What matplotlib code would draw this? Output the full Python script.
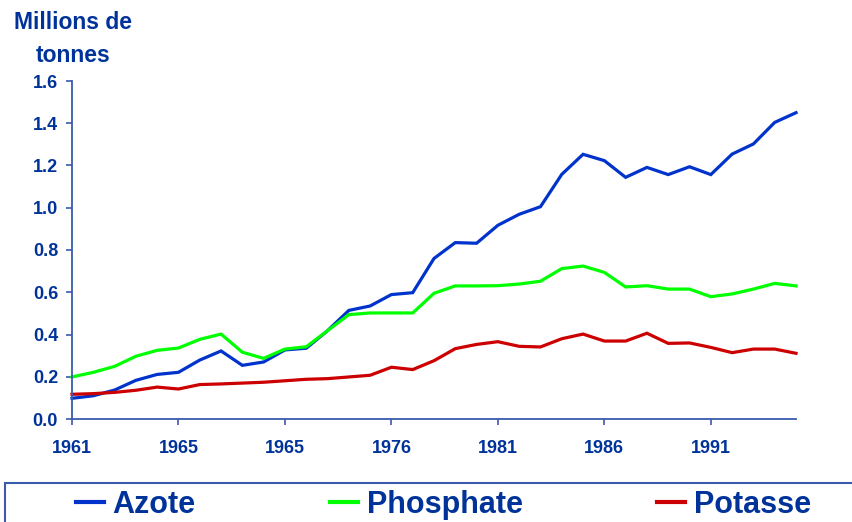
import numpy as np
import matplotlib
matplotlib.use("Agg")
import matplotlib.pyplot as plt
from matplotlib.patches import Rectangle
from matplotlib.lines import Line2D

azote = [0.098, 0.11, 0.137, 0.183, 0.211, 0.221, 0.279, 0.322, 0.254, 0.27,
         0.327, 0.335, 0.418, 0.514, 0.535, 0.589, 0.598, 0.76, 0.835, 0.832,
         0.917, 0.969, 1.005, 1.158, 1.253, 1.223, 1.144, 1.191, 1.157, 1.194,
         1.157, 1.254, 1.302, 1.404, 1.45]
phosphate = [0.199, 0.221, 0.249, 0.297, 0.325, 0.336, 0.377, 0.402, 0.316, 0.287,
             0.331, 0.342, 0.418, 0.494, 0.502, 0.502, 0.502, 0.595, 0.63, 0.63,
             0.631, 0.639, 0.652, 0.712, 0.724, 0.694, 0.625, 0.631, 0.615, 0.615,
             0.579, 0.592, 0.615, 0.642, 0.63]
potasse = [0.117, 0.12, 0.126, 0.136, 0.151, 0.142, 0.163, 0.166, 0.17, 0.174,
           0.181, 0.188, 0.191, 0.199, 0.207, 0.245, 0.234, 0.276, 0.333, 0.353,
           0.366, 0.344, 0.341, 0.38, 0.402, 0.369, 0.369, 0.406, 0.358, 0.36,
           0.339, 0.314, 0.331, 0.331, 0.311]
tick_labels = ['1961', '1965', '1965', '1976', '1981', '1986', '1991']
series_names = ['Azote', 'Phosphate', 'Potasse']

TXT = '#00339A'
AX = '#3A5AAE'
colors = ['#0033CC', '#00FF00', '#CC0000']
FONT = ['Liberation Sans', 'DejaVu Sans']
plt.rcParams['font.family'] = FONT
plt.rcParams['font.weight'] = 'bold'

W, H = 852, 522
fig = plt.figure(figsize=(W / 100, H / 100), dpi=100)
ax = fig.add_axes([72 / W, 1 - 419 / H, (796 - 72) / W, (419 - 81) / H])

x = np.arange(len(azote))
for vals, c in zip([azote, phosphate, potasse], colors):
    ax.plot(x, vals, color=c, lw=2.3, clip_on=False, solid_joinstyle='miter')

ax.set_xlim(0, len(azote) - 1)
ax.set_ylim(0, 1.6)
ax.set_xticks(np.arange(0, len(azote), 5))
ax.set_xticklabels(tick_labels)
ax.set_yticks(np.arange(0, 1.61, 0.2))
ax.set_yticklabels([f'{v:.1f}' for v in np.arange(0, 1.61, 0.2)])

for s in ['top', 'right']:
    ax.spines[s].set_visible(False)
for s in ['left', 'bottom']:
    ax.spines[s].set_color(AX)
    ax.spines[s].set_linewidth(1.3)
ax.tick_params(axis='both', colors=AX, labelcolor=TXT, labelsize=13,
               length=4, width=1.2, direction='out')
ax.tick_params(axis='y', pad=6)
ax.tick_params(axis='x', pad=11)
for lbl in ax.get_xticklabels() + ax.get_yticklabels():
    lbl.set_fontweight('bold')

fig.text(73 / W, 1 - 39 / H, 'Millions de\ntonnes', ha='center', va='center',
         fontsize=16.5, fontweight='bold', color=TXT, linespacing=1.55)

# legend frame
fig.add_artist(Rectangle((5 / W, -0.05), 1.0, (H - 483) / H + 0.05,
                         transform=fig.transFigure, fill=False,
                         edgecolor=AX, lw=1.5))
handles = [Line2D([], [], color=c, lw=3) for c in colors]
leg = fig.legend(handles, series_names, loc='center left',
                 bbox_to_anchor=(76 / W, 1 - 505 / H), ncol=3, frameon=False,
                 handlelength=0.9, handletextpad=0.3, columnspacing=4.4,
                 prop={'family': FONT, 'weight': 'bold', 'size': 22},
                 borderaxespad=0, borderpad=0)
for t in leg.get_texts():
    t.set_color(TXT)

fig.savefig('out.png', dpi=100)
